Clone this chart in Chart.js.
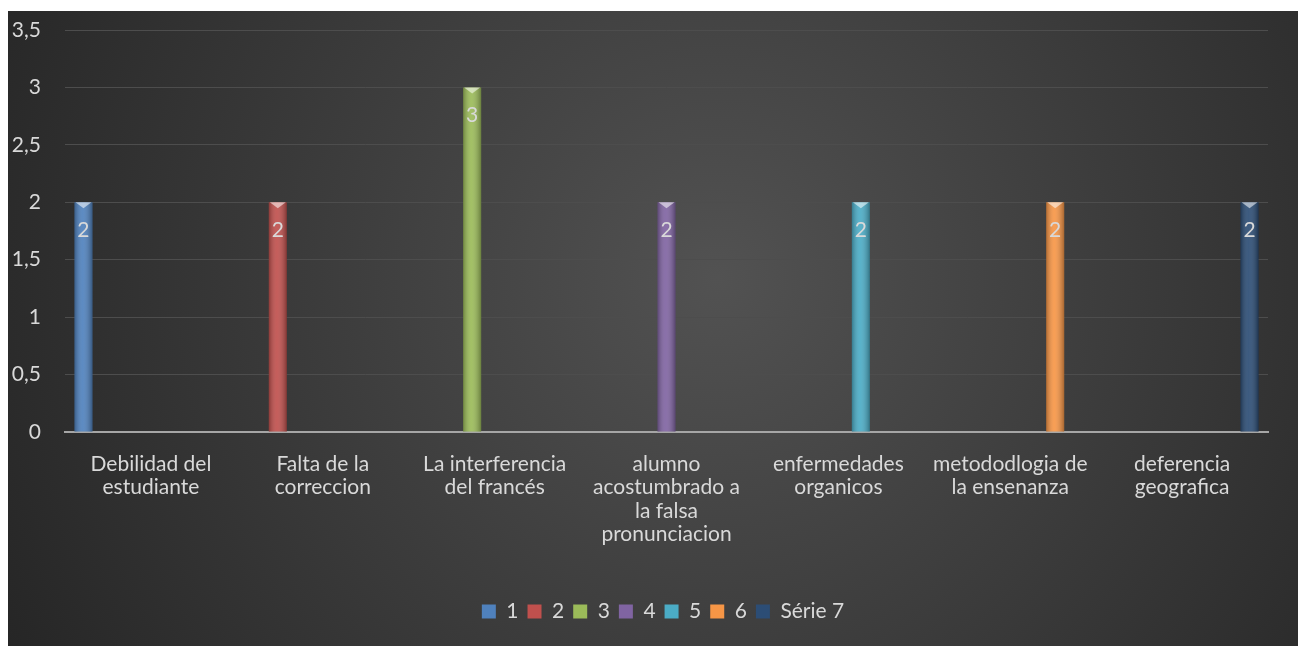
<!DOCTYPE html>
<html>
<head>
<meta charset="utf-8">
<script src="https://cdn.jsdelivr.net/npm/chart.js@4.4.0/dist/chart.umd.min.js"></script>
<style>
  html, body { margin: 0; padding: 0; background: #fff; }
  #wrap { position: absolute; left: 8px; top: 11px; width: 1290px; height: 635px; }
</style>
</head>
<body>
<div id="wrap"><canvas id="chart"></canvas></div>
<script>
// categories (multi-line labels, as in the original)
var categories = [
    ["Debilidad del", "estudiante"],
    ["Falta de la", "correccion"],
    ["La interferencia", "del francés"],
    ["alumno", "acostumbrado a", "la falsa", "pronunciacion"],
    ["enfermedades", "organicos"],
    ["metododlogia de", "la ensenanza"],
    ["deferencia", "geografica"]
];
var seriesNames = ["1", "2", "3", "4", "5", "6", "Série 7"];
var values = [2, 2, 3, 2, 2, 2, 2];
var yTicks = [0, 0.5, 1, 1.5, 2, 2.5, 3, 3.5];
var colors = ["#4f81bd", "#c0504d", "#9bbb59", "#8064a2", "#4bacc6", "#f79646", "#2c4d75"];

var textColor = "#d9d9d9";
var fontFamily = "Lato, 'Open Sans', sans-serif";
var fontSize = 21;

// each series only has a value in its own category
var datasets = seriesNames.map(function (name, i) {
    return {
        label: name,
        data: categories.map(function (c, j) { return j === i ? values[i] : null; }),
        backgroundColor: colors[i],
        borderWidth: 0,
        categoryPercentage: 0.916,
        barPercentage: 0.8
    };
});

var bgPlugin = {
    id: "bg",
    beforeDraw: function (chart) {
        var ctx = chart.ctx, w = chart.width, h = chart.height;
        var g = ctx.createRadialGradient(w * 0.55, h * 0.42, 0, w * 0.55, h * 0.42, w * 0.62);
        g.addColorStop(0, "#525252");
        g.addColorStop(1, "#262626");
        ctx.save();
        ctx.fillStyle = g;
        ctx.fillRect(0, 0, w, h);
        ctx.restore();
    },
    // legend sits a bit right of centre in the original
    afterLayout: function (chart) {
        chart.legend.left += 25;
        chart.legend.right += 25;
    }
};

var barDeco = {
    id: "barDeco",
    afterDatasetsDraw: function (chart) {
        var ctx = chart.ctx;
        chart.data.datasets.forEach(function (ds, i) {
            var meta = chart.getDatasetMeta(i);
            meta.data.forEach(function (bar, j) {
                if (ds.data[j] == null) return;
                var p = bar.getProps(["x", "y", "base", "width"], true);
                var l = p.x - p.width / 2, r = p.x + p.width / 2;
                ctx.save();
                // shading across the bar
                var g = ctx.createLinearGradient(l, 0, r, 0);
                g.addColorStop(0, "rgba(0,0,0,0.28)");
                g.addColorStop(0.45, "rgba(255,255,255,0.08)");
                g.addColorStop(1, "rgba(0,0,0,0.32)");
                ctx.fillStyle = g;
                ctx.fillRect(l, p.y, p.width, p.base - p.y);
                // light triangle cap on top
                ctx.fillStyle = "rgba(255,255,255,0.55)";
                ctx.beginPath();
                ctx.moveTo(l + 1, p.y);
                ctx.lineTo(r - 1, p.y);
                ctx.lineTo(p.x, p.y + 6);
                ctx.closePath();
                ctx.fill();
                // value label
                ctx.fillStyle = textColor;
                ctx.font = fontSize + "px " + fontFamily;
                ctx.textAlign = "center";
                ctx.textBaseline = "middle";
                ctx.fillText(String(ds.data[j]).replace(".", ","), p.x, p.y + 28);
                ctx.restore();
            });
        });
    }
};

var ctx = document.getElementById("chart").getContext("2d");
new Chart(ctx, {
    type: "bar",
    data: { labels: categories, datasets: datasets },
    plugins: [bgPlugin, barDeco],
    options: {
        responsive: true,
        maintainAspectRatio: false,
        animation: false,
        layout: { padding: { top: 19, right: 30, left: 0, bottom: 14 } },
        scales: {
            x: {
                grid: { display: false },
                border: { color: "#a6a6a6", width: 2 },
                ticks: {
                    color: textColor,
                    font: { family: fontFamily, size: fontSize, lineHeight: 23.5 / 21 },
                    maxRotation: 0,
                    autoSkip: false,
                    padding: 12
                },
                afterFit: function (s) { s.height = 160; }
            },
            y: {
                min: 0,
                max: 3.5,
                afterBuildTicks: function (s) {
                    s.ticks = yTicks.map(function (v) { return { value: v }; });
                },
                grid: { color: "#4d4d4d", lineWidth: 1, drawTicks: false },
                border: { display: false },
                ticks: {
                    color: textColor,
                    font: { family: fontFamily, size: fontSize },
                    padding: 24,
                    callback: function (v) { return String(v).replace(".", ","); }
                },
                afterFit: function (s) {
                    s.width = 57;
                    s.paddingTop = 0;
                    s.paddingBottom = 0;
                }
            }
        },
        plugins: {
            tooltip: { enabled: false },
            legend: {
                position: "bottom",
                labels: {
                    color: textColor,
                    font: { family: fontFamily, size: fontSize },
                    boxWidth: 14,
                    boxHeight: 14,
                    padding: 9
                }
            }
        }
    }
});
</script>
</body>
</html>
